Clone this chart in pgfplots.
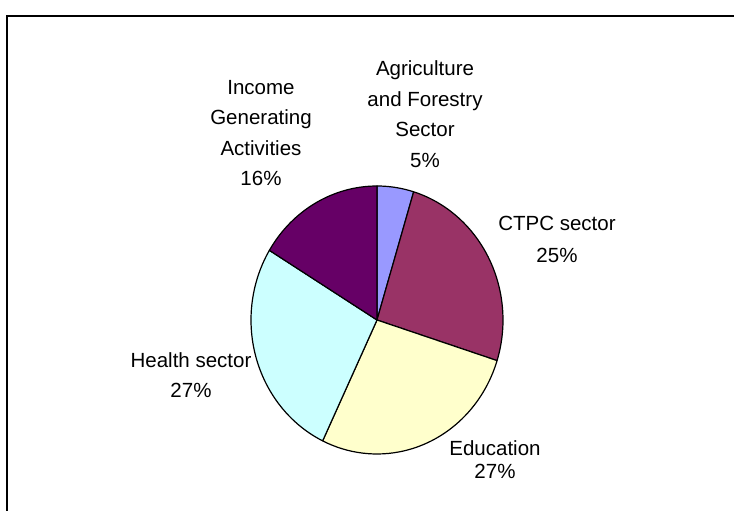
\documentclass[border=0pt]{standalone}
\usepackage{fontspec}
\setmainfont{Liberation Sans}
\usepackage{pgfplots}
\pgfplotsset{compat=1.18}
\definecolor{agri}{HTML}{9999FF}
\definecolor{ctpc}{HTML}{993366}
\definecolor{educ}{HTML}{FFFFCC}
\definecolor{hlth}{HTML}{CCFFFF}
\definecolor{incm}{HTML}{660066}
\begin{document}
\begin{tikzpicture}
\useasboundingbox (0,0) rectangle (734pt,511pt);
% slice values (percent), clockwise from 12 o'clock
\pgfmathsetmacro\vA{4.7}  % Agriculture and Forestry Sector
\pgfmathsetmacro\vB{25.2} % CTPC sector
\pgfmathsetmacro\vC{27.2} % Education
\pgfmathsetmacro\vD{26.6} % Health sector
\pgfmathsetmacro\vE{16.3} % Income Generating Activities
\pgfmathsetmacro\sA{90}
\pgfmathsetmacro\eA{\sA-3.6*\vA}
\pgfmathsetmacro\eB{\eA-3.6*\vB}
\pgfmathsetmacro\eC{\eB-3.6*\vC}
\pgfmathsetmacro\eD{\eC-3.6*\vD}
\pgfmathsetmacro\eE{\eD-3.6*\vE}
\begin{axis}[x=1pt,y=1pt,xmin=0,xmax=734,ymin=0,ymax=511,hide axis,clip=false,
  anchor=south west, at={(0,0)}]
\draw[line width=2pt] (axis cs:7,-20) -- (axis cs:7,495.3) -- (axis cs:760,495.3);
\filldraw[fill=agri,draw=black,line width=1.2pt,line join=round] (axis cs:377,191) -- ++(\sA:126pt and 134pt) arc[start angle=\sA,end angle=\eA,x radius=126pt,y radius=134pt] -- cycle;
\filldraw[fill=ctpc,draw=black,line width=1.2pt,line join=round] (axis cs:377,191) -- ++(\eA:126pt and 134pt) arc[start angle=\eA,end angle=\eB,x radius=126pt,y radius=134pt] -- cycle;
\filldraw[fill=educ,draw=black,line width=1.2pt,line join=round] (axis cs:377,191) -- ++(\eB:126pt and 134pt) arc[start angle=\eB,end angle=\eC,x radius=126pt,y radius=134pt] -- cycle;
\filldraw[fill=hlth,draw=black,line width=1.2pt,line join=round] (axis cs:377,191) -- ++(\eC:126pt and 134pt) arc[start angle=\eC,end angle=\eD,x radius=126pt,y radius=134pt] -- cycle;
\filldraw[fill=incm,draw=black,line width=1.2pt,line join=round] (axis cs:377,191) -- ++(\eD:126pt and 134pt) arc[start angle=\eD,end angle=\eE,x radius=126pt,y radius=134pt] -- cycle;
\node[font=\fontsize{20.5}{30.5}\selectfont,align=center] at (axis cs:425,397) {Agriculture\\and Forestry\\Sector\\5\%};
\node[font=\fontsize{20.5}{30.5}\selectfont,align=center] at (axis cs:261,378) {Income\\Generating\\Activities\\16\%};
\node[font=\fontsize{20.5}{32}\selectfont,align=center] at (axis cs:557,272) {CTPC sector\\25\%};
\node[font=\fontsize{20.5}{30.5}\selectfont,align=center] at (axis cs:191,136) {Health sector\\27\%};
\node[font=\fontsize{20.5}{23.5}\selectfont,align=center] at (axis cs:495,51.5) {Education\\27\%};
\end{axis}
\end{tikzpicture}
\end{document}
